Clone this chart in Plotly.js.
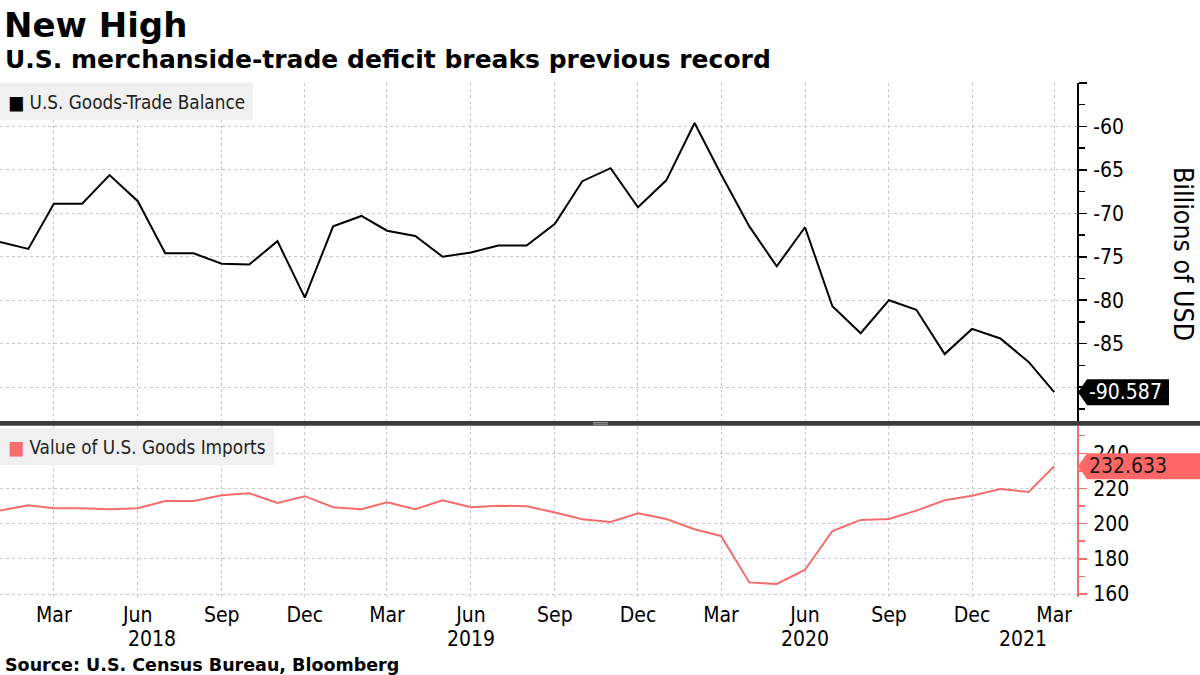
<!DOCTYPE html>
<html>
<head>
<meta charset="utf-8">
<script src="https://cdn.plot.ly/plotly-3.0.1.min.js"></script>
<style>
  html, body { margin: 0; padding: 0; background: #ffffff; }
  #chart { width: 1200px; height: 675px; }
</style>
</head>
<body>
<div id="chart"></div>
<script>
const months = [
  "2018-01-01", "2018-02-01", "2018-03-01", "2018-04-01", "2018-05-01", "2018-06-01",
  "2018-07-01", "2018-08-01", "2018-09-01", "2018-10-01", "2018-11-01", "2018-12-01",
  "2019-01-01", "2019-02-01", "2019-03-01", "2019-04-01", "2019-05-01", "2019-06-01",
  "2019-07-01", "2019-08-01", "2019-09-01", "2019-10-01", "2019-11-01", "2019-12-01",
  "2020-01-01", "2020-02-01", "2020-03-01", "2020-04-01", "2020-05-01", "2020-06-01",
  "2020-07-01", "2020-08-01", "2020-09-01", "2020-10-01", "2020-11-01", "2020-12-01",
  "2021-01-01", "2021-02-01", "2021-03-01",
];

// U.S. goods-trade balance, billions of USD
const balance = [
  -73.3, -74.1, -68.9, -68.9, -65.6, -68.6, -74.6, -74.6, -75.8, -75.9, -73.2, -79.7,
  -71.5, -70.3, -72.0, -72.6, -75.0, -74.5, -73.7, -73.7, -71.2, -66.3, -64.8, -69.3,
  -66.2, -59.6, -65.5, -71.5, -76.1, -71.6, -80.7, -83.8, -80.0, -81.1, -86.2, -83.3,
  -84.4, -87.1, -90.587,
];

// Value of U.S. goods imports, billions of USD
const imports = [
  207.4, 210.4, 208.7, 208.7, 208.2, 208.7, 212.9, 212.9, 216.1, 217.3, 211.8, 215.6,
  209.3, 208.2, 212.1, 208.2, 213.3, 209.3, 210.2, 209.9, 206.3, 202.5, 201.0, 205.9,
  202.6, 196.8, 193.0, 166.6, 165.7, 173.8, 195.8, 202.1, 202.6, 207.4, 213.3, 215.9,
  219.7, 218.0, 232.633,
];

const quarterTicks = [
  "2018-03-01", "2018-06-01", "2018-09-01", "2018-12-01",
  "2019-03-01", "2019-06-01", "2019-09-01", "2019-12-01",
  "2020-03-01", "2020-06-01", "2020-09-01", "2020-12-01",
  "2021-03-01",
];
const quarterText = ["Mar", "Jun", "Sep", "Dec", "Mar", "Jun", "Sep", "Dec", "Mar", "Jun", "Sep", "Dec", "Mar"];

const yearLabels = ["2018", "2019", "2020", "2021"];
const yearPositions = ["2018-06-16", "2019-06-01", "2020-06-01", "2021-01-26"];

// -90 sits under the value tag, -55 is the axis top: both carry no label
const balanceTicks = [-90, -85, -80, -75, -70, -65, -60, -55];
const balanceTickText = ["", "-85", "-80", "-75", "-70", "-65", "-60", ""];
const importTicks = [160, 180, 200, 220, 240];
const importTickText = ["160", "180", "200", "220", "240"];

const RED = "#f46d6d";
const GRID = "#c9c9c9";
const TICK_FONT = "DejaVu Sans Condensed, DejaVu Sans, sans-serif";
const BOLD_FONT = "DejaVu Sans, sans-serif";

// plot area in page pixels: x 0..1077, y 83..597
const PLOT_TOP = 83;
const PLOT_BOTTOM = 597;
const PLOT_RIGHT = 1077;
const PLOT_HEIGHT = PLOT_BOTTOM - PLOT_TOP;

function paperY(pixelY) {
  return (PLOT_BOTTOM - pixelY) / PLOT_HEIGHT;
}

function paperX(pixelX) {
  return pixelX / PLOT_RIGHT;
}

const lastBalance = balance[balance.length - 1];
const lastImport = imports[imports.length - 1];

const traces = [
  {
    x: months,
    y: balance,
    type: "scatter",
    mode: "lines",
    name: "U.S. Goods-Trade Balance",
    line: { color: "#000000", width: 2 },
    xaxis: "x",
    yaxis: "y",
    hoverinfo: "skip",
  },
  {
    x: months,
    y: imports,
    type: "scatter",
    mode: "lines",
    name: "Value of U.S. Goods Imports",
    line: { color: RED, width: 2 },
    xaxis: "x",
    yaxis: "y2",
    hoverinfo: "skip",
  },
];

function valueTag(yref, value, width, color) {
  return {
    type: "path",
    xref: "paper",
    xsizemode: "pixel",
    xanchor: 1,
    yref: yref,
    ysizemode: "pixel",
    yanchor: value,
    path: `M1,0 L10,13 L${width},13 L${width},-13 L10,-13 Z`,
    fillcolor: color,
    line: { width: 0 },
    layer: "above",
  };
}

function handleLine(pixelY) {
  return {
    type: "line",
    xref: "paper",
    yref: "paper",
    x0: paperX(593),
    x1: paperX(608),
    y0: paperY(pixelY),
    y1: paperY(pixelY),
    line: { color: "#a0a0a0", width: 1 },
    layer: "above",
  };
}

const shapes = [
  valueTag("y", lastBalance, 92, "#000000"),
  valueTag("y2", lastImport, 124, "#ff6666"),
  {
    type: "rect",
    xref: "paper",
    yref: "paper",
    x0: 0,
    x1: 1200 / PLOT_RIGHT,
    y0: paperY(425.7),
    y1: paperY(421),
    fillcolor: "#3c3c3c",
    line: { width: 0 },
    layer: "above",
  },
  handleLine(422.6),
  handleLine(424.2),
];

function legendBox(label, color, pixelTop) {
  return {
    text: `<span style='color:${color};font-size:19px'>■</span> ${label}`,
    xref: "paper", yref: "paper",
    x: 0, y: paperY(pixelTop),
    xanchor: "left", yanchor: "top",
    align: "left",
    height: 21,
    borderpad: 8, borderwidth: 0,
    bgcolor: "#f0f0f0",
    showarrow: false,
    font: { family: TICK_FONT, size: 18.8, color: "#1e1e1e" },
  };
}

const annotations = [
  {
    text: "<b>New High</b>",
    xref: "paper", yref: "paper",
    x: paperX(2), y: paperY(25.5),
    xanchor: "left", yanchor: "middle",
    showarrow: false,
    font: { family: BOLD_FONT, size: 34, color: "#000000" },
  },
  {
    text: "<b>U.S. merchanside-trade deficit breaks previous record</b>",
    xref: "paper", yref: "paper",
    x: paperX(3), y: paperY(60),
    xanchor: "left", yanchor: "middle",
    showarrow: false,
    font: { family: BOLD_FONT, size: 25, color: "#000000" },
  },
  {
    text: "<b>Source: U.S. Census Bureau, Bloomberg</b>",
    xref: "paper", yref: "paper",
    x: paperX(3), y: paperY(664.5),
    xanchor: "left", yanchor: "middle",
    showarrow: false,
    font: { family: BOLD_FONT, size: 17.5, color: "#000000" },
  },
  {
    text: "Billions of USD",
    xref: "paper", yref: "paper",
    x: paperX(1184), y: paperY(254),
    xanchor: "center", yanchor: "middle",
    textangle: 90,
    showarrow: false,
    font: { family: TICK_FONT, size: 26.5, color: "#000000" },
  },
  legendBox("U.S. Goods-Trade Balance", "#000000", 83),
  legendBox("Value of U.S. Goods Imports", RED, 428),
  {
    text: String(lastBalance),
    xref: "paper", yref: "y",
    x: 1, y: lastBalance,
    xanchor: "left", yanchor: "middle",
    xshift: 10,
    showarrow: false,
    font: { family: TICK_FONT, size: 21, color: "#ffffff" },
  },
  {
    text: String(lastImport),
    xref: "paper", yref: "y2",
    x: 1, y: lastImport,
    xanchor: "left", yanchor: "middle",
    xshift: 10,
    showarrow: false,
    font: { family: TICK_FONT, size: 21, color: "#1a1a1a" },
  },
];

yearLabels.forEach((label, index) => {
  annotations.push({
    text: label,
    xref: "x", yref: "paper",
    x: yearPositions[index], y: paperY(639),
    xanchor: "center", yanchor: "middle",
    showarrow: false,
    font: { family: TICK_FONT, size: 21, color: "#000000" },
  });
});

const layout = {
  width: 1200,
  height: 675,
  margin: { l: 0, r: 1200 - PLOT_RIGHT, t: PLOT_TOP, b: 675 - PLOT_BOTTOM },
  paper_bgcolor: "#ffffff",
  plot_bgcolor: "#ffffff",
  showlegend: false,
  xaxis: {
    type: "date",
    range: ["2018-01-01", "2021-03-26"],
    anchor: "y2",
    tickmode: "array",
    tickvals: quarterTicks,
    ticktext: quarterText,
    ticks: "",
    ticklabelstandoff: 3,
    showgrid: true,
    gridcolor: GRID,
    griddash: "dot",
    gridwidth: 1,
    zeroline: false,
    showline: false,
    tickfont: { family: TICK_FONT, size: 21, color: "#000000" },
  },
  yaxis: {
    domain: [paperY(421), 1],
    range: [-93.9, -55],
    side: "right",
    anchor: "x",
    showline: true,
    linecolor: "#000000",
    linewidth: 2,
    ticks: "outside",
    ticklen: 8,
    tickwidth: 1.5,
    tickcolor: "#000000",
    tickmode: "array",
    tickvals: balanceTicks,
    ticktext: balanceTickText,
    ticklabelstandoff: 2,
    showgrid: true,
    gridcolor: GRID,
    griddash: "dot",
    zeroline: false,
    tickfont: { family: TICK_FONT, size: 21, color: "#000000" },
    minor: {
      tickmode: "linear",
      tick0: 0,
      dtick: 2.5,
      ticks: "outside",
      ticklen: 6,
      tickwidth: 1.5,
      tickcolor: "#000000",
      showgrid: false,
    },
  },
  yaxis2: {
    domain: [0, paperY(426)],
    range: [158.3, 255.5],
    side: "right",
    anchor: "x",
    showline: true,
    linecolor: RED,
    linewidth: 2,
    ticks: "outside",
    ticklen: 8,
    tickwidth: 1.5,
    tickcolor: RED,
    tickmode: "array",
    tickvals: importTicks,
    ticktext: importTickText,
    ticklabelstandoff: 2,
    showgrid: true,
    gridcolor: GRID,
    griddash: "dot",
    zeroline: false,
    tickfont: { family: TICK_FONT, size: 21, color: "#000000" },
    minor: {
      tickmode: "linear",
      tick0: 0,
      dtick: 10,
      ticks: "outside",
      ticklen: 6,
      tickwidth: 1.5,
      tickcolor: RED,
      showgrid: false,
    },
  },
  shapes: shapes,
  annotations: annotations,
};

Plotly.newPlot("chart", traces, layout, { staticPlot: true, displayModeBar: false });
</script>
</body>
</html>
